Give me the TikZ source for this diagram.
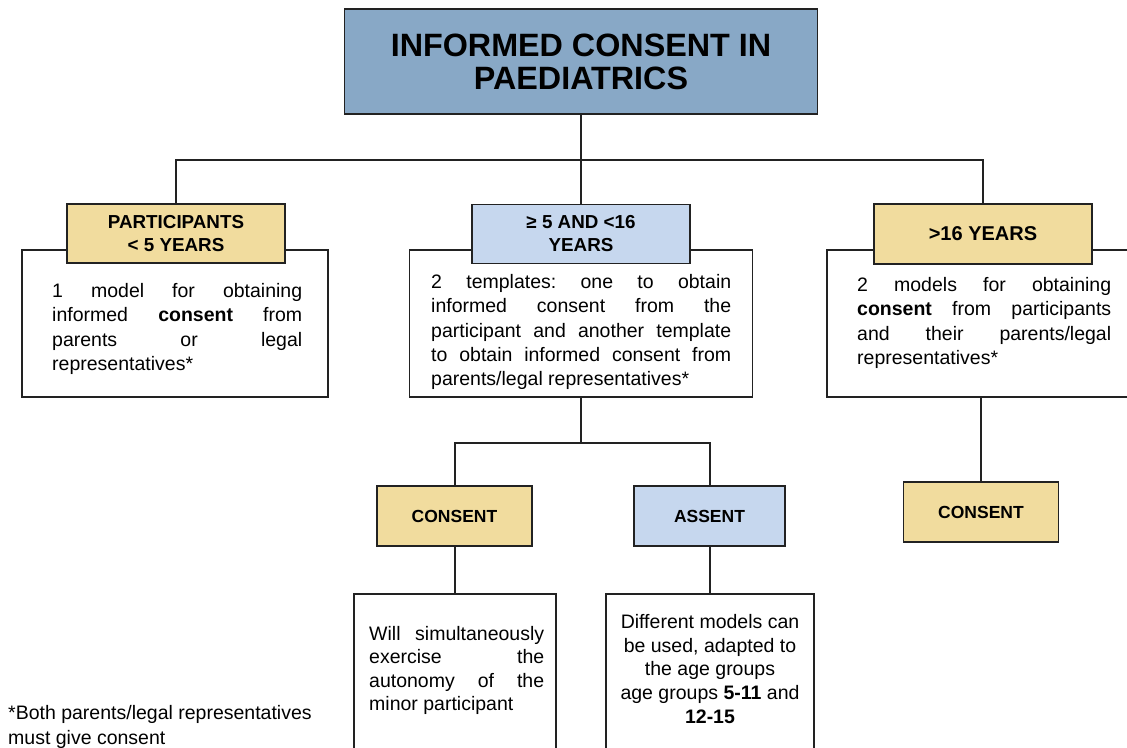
\documentclass[tikz,border=0pt]{standalone}
\usepackage{fontspec}
\setmainfont{Liberation Sans}
\frenchspacing
\definecolor{linec}{HTML}{222222}
\definecolor{titleblue}{HTML}{88A8C6}
\definecolor{hdryellow}{HTML}{F1DC9E}
\definecolor{hdrblue}{HTML}{C6D7EE}
\tikzset{
  box/.style={draw=linec, line width=1.8pt, inner sep=0pt},
  titlebox/.style={box, fill=titleblue, minimum width=473pt, minimum height=105pt,
    font=\bfseries\fontsize{32.3}{33}\selectfont, align=center},
  hdr/.style={box, minimum width=218pt, minimum height=59pt,
    font=\bfseries\fontsize{18.8}{23}\selectfont, align=center},
  hdry/.style={hdr, fill=hdryellow},
  hdrb/.style={hdr, fill=hdrblue},
  leaf/.style={box, minimum width=155pt, minimum height=60pt,
    font=\bfseries\fontsize{17.5}{23}\selectfont, align=center},
  txtbox/.style={box, fill=white},
  body/.style={inner sep=0pt, font=\fontsize{19.5}{24.4}\selectfont},
  conn/.style={draw=linec, line width=2pt},
}
\begin{document}
\begin{tikzpicture}[x=1pt,y=-1pt]
\useasboundingbox (0,0) rectangle (1127,747);
% title
\node[titlebox] (title) at (581,61.5) {INFORMED CONSENT IN\\PAEDIATRICS};
% text boxes (drawn beneath headers)
\node[txtbox, minimum width=306pt, minimum height=147pt] (lbox) at (175,323.5) {};
\node[txtbox, minimum width=343pt, minimum height=147pt] (mbox) at (581,323.5) {};
\node[txtbox, minimum width=310pt, minimum height=147pt] (rbox) at (982,323.5) {};
% headers
\node[hdry] (lhdr) at (176,233.5) {PARTICIPANTS\\< 5 YEARS};
\node[hdrb] (mhdr) at (581,234) {≥ 5 AND <16\\YEARS};
\node[hdry, minimum height=60pt, font=\bfseries\fontsize{20}{23}\selectfont] (rhdr) at (983,234) {>16 YEARS};
% body texts
\node[body, anchor=north west, text width=250pt, align=justify] (ltxt) at (52,283)
  {1 model for obtaining\linebreak informed \textbf{consent} from\linebreak parents or legal\linebreak representatives*};
\node[body, anchor=north west, text width=300pt, align=justify] (mtxt) at (431,274)
  {2 templates: one to obtain\linebreak informed consent from the\linebreak participant and another template\linebreak to obtain informed consent from\linebreak parents/legal representatives*};
\node[body, anchor=north west, text width=254pt, align=justify] (rtxt) at (857,277)
  {2 models for obtaining\linebreak \textbf{consent} from participants\linebreak and their parents/legal\linebreak representatives*};
% second level
\node[leaf, fill=hdryellow] (mcons) at (454.5,516) {CONSENT};
\node[leaf, fill=hdrblue, minimum width=151pt] (assent) at (709.5,516) {ASSENT};
\node[leaf, fill=hdryellow] (rcons) at (981,512) {CONSENT};
% bottom boxes
\node[txtbox, minimum width=202pt, minimum height=200pt] (cbox) at (455,694) {};
\node[txtbox, minimum width=208pt, minimum height=200pt] (abox) at (710,694) {};
\node[body, anchor=north west, text width=175pt, align=justify,
  font=\fontsize{19.5}{23.5}\selectfont] (ctxt) at (369,626)
  {Will simultaneously\linebreak exercise the\linebreak autonomy of the\linebreak minor participant};
\node[body, anchor=north, align=center,
  font=\fontsize{19.5}{23.7}\selectfont] (atxt) at (710,614)
  {Different models can\\be used, adapted to\\the age groups\\age groups \textbf{5-11} and\\\textbf{12-15}};
% footnote
\node[body, anchor=north west, align=left,
  font=\fontsize{19.5}{25}\selectfont] (foot) at (8,705)
  {*Both parents/legal representatives\\must give consent};
% connectors
\coordinate (j1) at (581,160);
\draw[conn] (title.south) -- (j1);
\draw[conn] (lhdr.north) |- (j1) -| (rhdr.north);
\draw[conn] (j1) -- (mhdr.north);
\coordinate (j2) at (581,443);
\draw[conn] (mbox.south) -- (j2);
\draw[conn] (mcons.north) |- (j2) -| (assent.north);
\draw[conn] (rbox.south -| rcons.north) -- (rcons.north);
\draw[conn] (mcons.south) -- (cbox.north -| mcons.south);
\draw[conn] (assent.south) -- (abox.north -| assent.south);
\end{tikzpicture}
\end{document}
